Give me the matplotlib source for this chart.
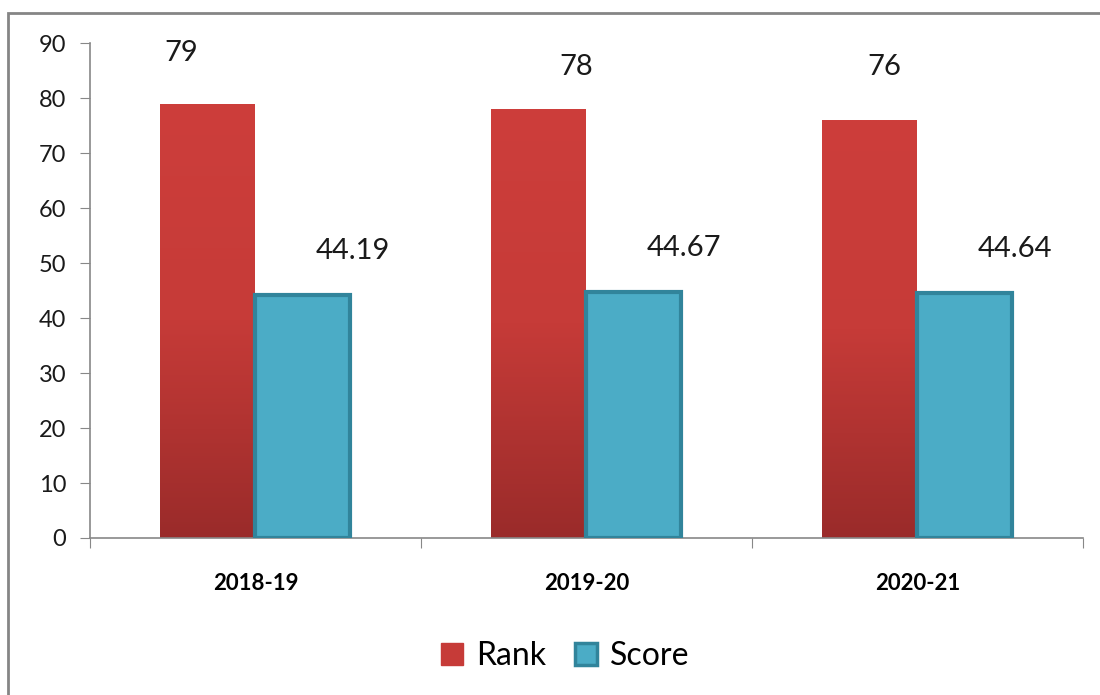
import numpy as np
import matplotlib
matplotlib.use('Agg')
import matplotlib.pyplot as plt
from matplotlib.patches import Rectangle, Patch
from matplotlib.colors import LinearSegmentedColormap

# data
years = ['2018-19', '2019-20', '2020-21']
rank = [79, 78, 76]
score = [44.19, 44.67, 44.64]

plt.rcParams['font.family'] = ['Lato', 'DejaVu Sans']

fig = plt.figure(figsize=(11, 6.95), dpi=100)
ax = fig.add_axes([0.0818, 0.2259, 0.9027, 0.7121])

# outer grey frame (clipped at right/bottom like the reference)
fig.patches.append(Rectangle((8 / 1100, -0.1), 1.2, 1 - 13 / 695 + 0.1,
                             transform=fig.transFigure, fill=False,
                             edgecolor='#858585', linewidth=2))

x = np.arange(len(years))
w = 0.287

red_cmap = LinearSegmentedColormap.from_list('r', ['#9a2b2a', '#c63b38', '#cd3e3b'])
grad = np.linspace(0, 1, 256).reshape(-1, 1)

rank_bars = ax.bar(x - w / 2, rank, w, color='#c43b38', edgecolor='none', zorder=2)
for b in rank_bars:
    x0, y0 = b.get_x(), b.get_y()
    im = ax.imshow(grad, extent=[x0, x0 + b.get_width(), y0, y0 + b.get_height()],
                   origin='lower', aspect='auto', cmap=red_cmap, zorder=2.1)
    im.set_clip_path(b)

ax.bar(x + w / 2, score, w, color='#4bacc6', edgecolor='#31849b', linewidth=3, zorder=3)

# data labels (placed by hand like the reference)
rank_off = [(-0.082, 9.2), (0.112, 7.6), (0.042, 9.6)]
for i, v in enumerate(rank):
    ax.text(x[i] - w / 2 + rank_off[i][0], v + rank_off[i][1], f'{v}',
            ha='center', va='center', fontsize=21, color='#1a1a1a')
for i, v in enumerate(score):
    ax.text(x[i] + w / 2 + 0.15, v + 8.0, f'{v:.2f}',
            ha='center', va='center', fontsize=21, color='#1a1a1a')

ax.set_xlim(-0.5, 2.5)
ax.set_ylim(0, 90)
ax.set_yticks(range(0, 91, 10))
ax.set_xticks([-0.5, 0.5, 1.5, 2.5])
ax.set_xticklabels([])
ax.set_xticks(x, minor=True)
ax.set_xticklabels(years, minor=True, fontweight='bold', fontsize=16)
ax.tick_params(axis='x', which='minor', length=0, pad=25)
ax.tick_params(axis='x', which='major', length=7, color='#888888', direction='out')
ax.tick_params(axis='y', length=7, color='#888888', labelsize=17, pad=10, labelcolor='#1a1a1a')

for s in ['top', 'right']:
    ax.spines[s].set_visible(False)
for s in ['left', 'bottom']:
    ax.spines[s].set_color('#888888')
    ax.spines[s].set_linewidth(1.2)

handles = [Patch(facecolor='#c63b38', edgecolor='#c63b38', label='Rank'),
           Patch(facecolor='#4bacc6', edgecolor='#31849b', linewidth=2.5, label='Score')]
fig.legend(handles=handles, loc='center', bbox_to_anchor=(0.514, 1 - 656 / 695),
           ncol=2, frameon=False, fontsize=23, handlelength=0.7, handleheight=0.7,
           handletextpad=0.4, columnspacing=0.9)

fig.savefig('out.png', dpi=100)
